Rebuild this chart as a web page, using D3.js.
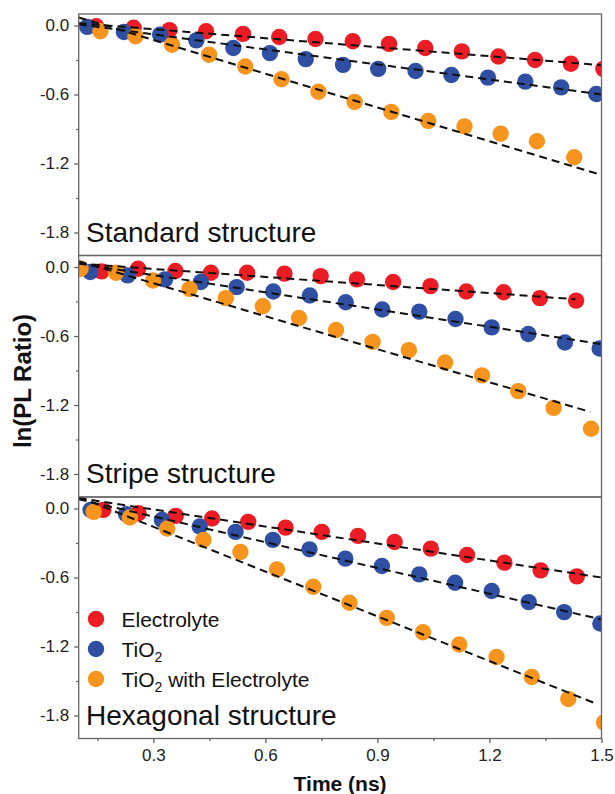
<!DOCTYPE html>
<html>
<head>
<meta charset="utf-8">
<script src="https://cdn.jsdelivr.net/npm/d3@7"></script>
<style>
  html, body { margin: 0; padding: 0; background: #fff; }
  svg { display: block; font-family: "Liberation Sans", Arial, Helvetica, sans-serif; }
</style>
</head>
<body>
<svg id="chart" width="615" height="794"></svg>
<script>
// ---------------- DATA ----------------
const seriesNames = ["Electrolyte", "TiO2", "TiO2 with Electrolyte"];
const panelTitles = ["Standard structure", "Stripe structure", "Hexagonal structure"];
const yTickLabels = [0.0, -0.6, -1.2, -1.8];
const yMinorTicks = [-0.3, -0.9, -1.5];
const xTickLabels = [0.3, 0.6, 0.9, 1.2, 1.5];
const xMinorTicks = [0.15, 0.45, 0.75, 1.05, 1.35];

// Standard structure
const stdRedX = [0.147,0.247,0.343,0.441,0.540,0.637,0.734,0.834,0.931,1.028,1.126,1.224,1.322,1.418,1.505];
const stdRedY = [-0.006,-0.020,-0.040,-0.050,-0.073,-0.100,-0.117,-0.137,-0.160,-0.196,-0.225,-0.270,-0.300,-0.333,-0.377];
const stdBlueX = [0.123,0.221,0.318,0.415,0.514,0.612,0.708,0.808,0.902,1.002,1.098,1.196,1.296,1.392,1.486];
const stdBlueY = [-0.012,-0.056,-0.079,-0.129,-0.196,-0.240,-0.292,-0.342,-0.377,-0.395,-0.430,-0.453,-0.488,-0.538,-0.596];
const stdOrangeX = [0.158,0.252,0.350,0.449,0.546,0.643,0.742,0.839,0.937,1.036,1.133,1.230,1.327,1.427];
const stdOrangeY = [-0.050,-0.094,-0.167,-0.254,-0.357,-0.468,-0.576,-0.664,-0.751,-0.830,-0.877,-0.940,-1.006,-1.146];
// fit lines: [x0, y0, x1, y1]
const stdRedFit = [0.1, 0.02, 1.5, -0.345];
const stdBlueFit = [0.1, 0.01, 1.5, -0.60];
const stdOrangeFit = [0.1, 0.07, 1.5, -1.30];

// Stripe structure
const stripeRedX = [0.161,0.259,0.359,0.454,0.551,0.651,0.748,0.845,0.942,1.042,1.138,1.238,1.335,1.432];
const stripeRedY = [-0.038,-0.015,-0.035,-0.050,-0.050,-0.058,-0.079,-0.108,-0.131,-0.166,-0.213,-0.219,-0.271,-0.292];
const stripeBlueX = [0.131,0.231,0.331,0.427,0.523,0.621,0.719,0.815,0.913,1.012,1.109,1.206,1.304,1.402,1.495];
const stripeBlueY = [-0.044,-0.073,-0.108,-0.131,-0.175,-0.213,-0.248,-0.306,-0.370,-0.388,-0.452,-0.525,-0.583,-0.656,-0.709];
const stripeOrangeX = [0.105,0.200,0.299,0.397,0.494,0.593,0.690,0.789,0.887,0.984,1.081,1.180,1.277,1.372,1.472];
const stripeOrangeY = [-0.015,-0.050,-0.117,-0.190,-0.271,-0.341,-0.443,-0.548,-0.651,-0.723,-0.831,-0.942,-1.079,-1.225,-1.406];
const stripeRedFit = [0.1, 0.03, 1.43, -0.28];
const stripeBlueFit = [0.1, 0.03, 1.5, -0.67];
const stripeOrangeFit = [0.1, 0.05, 1.47, -1.26];

// Hexagonal structure
const hexRedX = [0.166,0.260,0.360,0.457,0.554,0.654,0.751,0.848,0.946,1.043,1.140,1.240,1.337,1.434];
const hexRedY = [-0.012,-0.041,-0.064,-0.087,-0.116,-0.166,-0.203,-0.238,-0.291,-0.349,-0.404,-0.471,-0.538,-0.590];
const hexBlueX = [0.132,0.227,0.323,0.424,0.520,0.620,0.718,0.814,0.912,1.012,1.108,1.206,1.305,1.400,1.497];
const hexBlueY = [-0.012,-0.049,-0.099,-0.157,-0.203,-0.273,-0.355,-0.436,-0.500,-0.573,-0.645,-0.718,-0.814,-0.901,-1.000];
const hexOrangeX = [0.140,0.237,0.337,0.434,0.533,0.631,0.728,0.825,0.925,1.022,1.119,1.219,1.313,1.411,1.507];
const hexOrangeY = [-0.029,-0.078,-0.174,-0.273,-0.378,-0.529,-0.680,-0.820,-0.951,-1.076,-1.183,-1.291,-1.465,-1.657,-1.860];
const hexRedFit = [0.1, 0.09, 1.5, -0.60];
const hexBlueFit = [0.1, 0.08, 1.5, -0.965];
const hexOrangeFit = [0.1, 0.10, 1.48, -1.69];

// ---------------- STYLE ----------------
const colors = ["#ec1c24", "#2f4fa3", "#f7941d"];
const W = 615, H = 794;
const plotLeft = 78.7, plotRight = 601.5, plotTop = 14, plotBottom = 738.5;
const panelH = (plotBottom - plotTop) / 3;

const panels = [
  { title: panelTitles[0], xs: [stdRedX, stdBlueX, stdOrangeX], ys: [stdRedY, stdBlueY, stdOrangeY], fits: [stdRedFit, stdBlueFit, stdOrangeFit] },
  { title: panelTitles[1], xs: [stripeRedX, stripeBlueX, stripeOrangeX], ys: [stripeRedY, stripeBlueY, stripeOrangeY], fits: [stripeRedFit, stripeBlueFit, stripeOrangeFit] },
  { title: panelTitles[2], xs: [hexRedX, hexBlueX, hexOrangeX], ys: [hexRedY, hexBlueY, hexOrangeY], fits: [hexRedFit, hexBlueFit, hexOrangeFit] }
];

const svg = d3.select("#chart");
const x = d3.scaleLinear().domain([0.1, 1.5]).range([plotLeft, plotRight]);
const fmt = d => d.toFixed(1);

panels.forEach((p, pi) => {
  const top = plotTop + pi * panelH;
  const y = d3.scaleLinear().domain([-2.0, 0.1]).range([top + panelH, top]);
  const g = svg.append("g");

  const clipId = "clip" + pi;
  svg.append("clipPath").attr("id", clipId)
    .append("rect").attr("x", plotLeft).attr("y", top).attr("width", plotRight - plotLeft).attr("height", panelH);

  const plot = g.append("g").attr("clip-path", `url(#${clipId})`);

  // points
  [0, 1, 2].forEach(si => {
    const pts = p.xs[si].map((xv, i) => [xv, p.ys[si][i]]);
    plot.append("g").selectAll("circle").data(pts).join("circle")
      .attr("cx", d => x(d[0])).attr("cy", d => y(d[1])).attr("r", 8.2)
      .attr("fill", colors[si]);
  });
  // fit lines
  [0, 1, 2].forEach(si => {
    const f = p.fits[si];
    plot.append("line")
      .attr("x1", x(f[0])).attr("y1", y(f[1])).attr("x2", x(f[2])).attr("y2", y(f[3]))
      .attr("stroke", "#111").attr("stroke-width", 2).attr("stroke-dasharray", "8,5");
  });

  // y axis major
  const yAxis = d3.axisLeft(y).tickValues(yTickLabels).tickFormat(fmt).tickSize(4.5).tickPadding(5);
  const ya = g.append("g").attr("transform", `translate(${plotLeft},0)`).call(yAxis);
  ya.select(".domain").remove();
  ya.selectAll(".tick line").attr("stroke", "#555").attr("stroke-width", 1.2);
  ya.selectAll(".tick text").attr("font-size", 17).attr("fill", "#222")
    .attr("font-family", '"Liberation Sans", Arial, sans-serif');
  const ym = g.append("g").attr("transform", `translate(${plotLeft},0)`)
    .call(d3.axisLeft(y).tickValues(yMinorTicks).tickFormat("").tickSize(2.5));
  ym.select(".domain").remove();
  ym.selectAll(".tick line").attr("stroke", "#555").attr("stroke-width", 1.2);

  // panel frame
  g.append("rect").attr("x", plotLeft).attr("y", top).attr("width", plotRight - plotLeft).attr("height", panelH)
    .attr("fill", "none").attr("stroke", "#666").attr("stroke-width", 1.3);

  // title
  g.append("text").attr("x", 86).attr("y", top + panelH - 14).attr("font-size", 28)
    .attr("fill", "#111").text(p.title);

  if (pi === 2) {
    const xa = g.append("g").attr("transform", `translate(0,${top + panelH})`)
      .call(d3.axisBottom(x).tickValues(xTickLabels).tickFormat(fmt).tickSize(4.5).tickPadding(6));
    xa.select(".domain").remove();
    xa.selectAll(".tick line").attr("stroke", "#555").attr("stroke-width", 1.2);
    xa.selectAll(".tick text").attr("font-size", 17).attr("fill", "#222")
      .attr("font-family", '"Liberation Sans", Arial, sans-serif');
    const xm = g.append("g").attr("transform", `translate(0,${top + panelH})`)
      .call(d3.axisBottom(x).tickValues(xMinorTicks).tickFormat("").tickSize(2.5));
    xm.select(".domain").remove();
    xm.selectAll(".tick line").attr("stroke", "#555").attr("stroke-width", 1.2);

    // legend
    const legY = [619, 649, 679];
    const leg = g.append("g");
    seriesNames.forEach((name, i) => {
      leg.append("circle").attr("cx", 96).attr("cy", legY[i]).attr("r", 8.2).attr("fill", colors[i]);
      const t = leg.append("text").attr("x", 121.5).attr("y", legY[i] + 7.5).attr("font-size", 21).attr("fill", "#111");
      if (name.startsWith("TiO2")) {
        t.append("tspan").text("TiO");
        t.append("tspan").attr("font-size", 14).attr("dy", 5).text("2");
        const rest = name.slice(4);
        if (rest.length) t.append("tspan").attr("dy", -5).text(rest);
      } else {
        t.text(name);
      }
    });
  }
});

// axis titles
svg.append("text").attr("x", (plotLeft + plotRight) / 2).attr("y", 791)
  .attr("text-anchor", "middle").attr("font-size", 21).attr("font-weight", "bold").attr("fill", "#111")
  .text("Time (ns)");
svg.append("text").attr("transform", `translate(30.5,381) rotate(-90)`)
  .attr("text-anchor", "middle").attr("font-size", 24).attr("font-weight", "bold").attr("fill", "#111")
  .text("ln(PL Ratio)");
</script>
</body>
</html>
